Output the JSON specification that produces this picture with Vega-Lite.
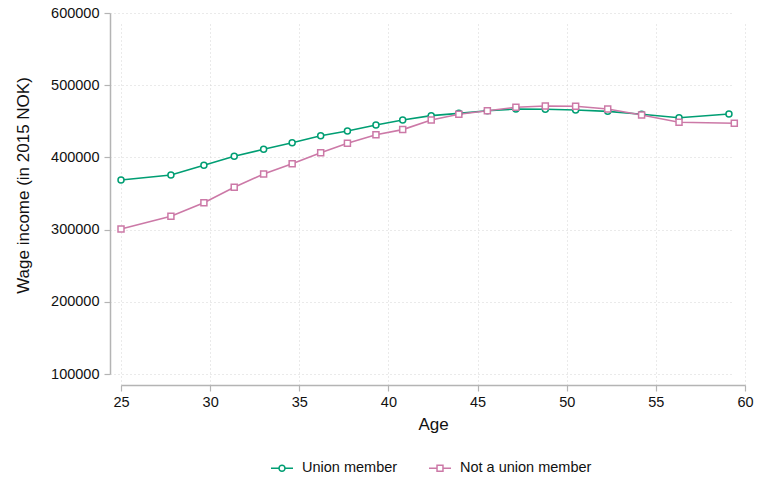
{
  "$schema": "https://vega.github.io/schema/vega-lite/v6.json",
  "width": 624,
  "height": 361,
  "autosize": "none",
  "padding": {"left": 121, "top": 13, "right": 16, "bottom": 108},
  "background": "white",
  "config": {
    "font": "Liberation Sans",
    "view": {"stroke": null},
    "axis": {
      "domainColor": "#b4b4b4",
      "domainWidth": 1.5,
      "tickColor": "#b4b4b4",
      "tickWidth": 1.2,
      "tickSize": 6,
      "labelColor": "#111",
      "titleColor": "#111",
      "labelFontSize": 14.5,
      "titleFontSize": 17,
      "titleFontWeight": "normal",
      "gridColor": "#d4d4d4",
      "gridDash": [1, 3],
      "gridWidth": 1,
      "offset": 11,
      "labelFlush": false
    }
  },
  "data": {
    "values": [
      {"age": 25.0, "wage": 368700, "group": "Union member"},
      {"age": 27.8, "wage": 375600, "group": "Union member"},
      {"age": 29.65, "wage": 389000, "group": "Union member"},
      {"age": 31.35, "wage": 401500, "group": "Union member"},
      {"age": 33.0, "wage": 411200, "group": "Union member"},
      {"age": 34.6, "wage": 420400, "group": "Union member"},
      {"age": 36.2, "wage": 430000, "group": "Union member"},
      {"age": 37.7, "wage": 436600, "group": "Union member"},
      {"age": 39.3, "wage": 444900, "group": "Union member"},
      {"age": 40.8, "wage": 451800, "group": "Union member"},
      {"age": 42.4, "wage": 457800, "group": "Union member"},
      {"age": 43.95, "wage": 461000, "group": "Union member"},
      {"age": 45.55, "wage": 464700, "group": "Union member"},
      {"age": 47.15, "wage": 467000, "group": "Union member"},
      {"age": 48.8, "wage": 466600, "group": "Union member"},
      {"age": 50.5, "wage": 465600, "group": "Union member"},
      {"age": 52.3, "wage": 463800, "group": "Union member"},
      {"age": 54.2, "wage": 459700, "group": "Union member"},
      {"age": 56.3, "wage": 455000, "group": "Union member"},
      {"age": 59.1, "wage": 460100, "group": "Union member"},
      {"age": 25.0, "wage": 300800, "group": "Not a union member"},
      {"age": 27.8, "wage": 318400, "group": "Not a union member"},
      {"age": 29.65, "wage": 337300, "group": "Not a union member"},
      {"age": 31.35, "wage": 358600, "group": "Not a union member"},
      {"age": 33.0, "wage": 377000, "group": "Not a union member"},
      {"age": 34.6, "wage": 391300, "group": "Not a union member"},
      {"age": 36.2, "wage": 406500, "group": "Not a union member"},
      {"age": 37.7, "wage": 419500, "group": "Not a union member"},
      {"age": 39.3, "wage": 431400, "group": "Not a union member"},
      {"age": 40.8, "wage": 438500, "group": "Not a union member"},
      {"age": 42.4, "wage": 451800, "group": "Not a union member"},
      {"age": 43.95, "wage": 459700, "group": "Not a union member"},
      {"age": 45.55, "wage": 464700, "group": "Not a union member"},
      {"age": 47.15, "wage": 469400, "group": "Not a union member"},
      {"age": 48.8, "wage": 471200, "group": "Not a union member"},
      {"age": 50.5, "wage": 470800, "group": "Not a union member"},
      {"age": 52.3, "wage": 467000, "group": "Not a union member"},
      {"age": 54.2, "wage": 458700, "group": "Not a union member"},
      {"age": 56.3, "wage": 448600, "group": "Not a union member"},
      {"age": 59.4, "wage": 447200, "group": "Not a union member"}
    ]
  },
  "encoding": {
    "x": {
      "field": "age", "type": "quantitative",
      "scale": {"domain": [25, 60], "nice": false, "zero": false},
      "axis": {"values": [25, 30, 35, 40, 45, 50, 55, 60], "title": "Age", "grid": true, "labelPadding": 4, "titlePadding": 8}
    },
    "y": {
      "field": "wage", "type": "quantitative",
      "scale": {"domain": [100000, 600000], "nice": false, "zero": false},
      "axis": {"values": [100000, 200000, 300000, 400000, 500000, 600000], "format": "d", "title": "Wage income (in 2015 NOK)", "grid": true, "labelPadding": 5, "titlePadding": 18, "titleY": 172}
    },
    "color": {
      "field": "group", "type": "nominal",
      "scale": {"domain": ["Union member", "Not a union member"], "range": ["#009E73", "#CC79A7"]},
      "legend": {
        "orient": "none",
        "legendX": 149,
        "legendY": 443,
        "direction": "horizontal",
        "title": null,
        "labelFontSize": 14.5,
        "labelColor": "#111",
        "symbolSize": 484,
        "symbolStrokeWidth": 1.5,
        "labelOffset": 8,
        "columnPadding": 28,
        "encode": {
          "symbols": {
            "update": {
              "shape": {"signal": "datum.value === 'Union member' ? 'M-1,0L-0.27,0M0.27,0L1,0M0.27,0A0.27,0.27 0 1 1 -0.27,0A0.27,0.27 0 1 1 0.27,0Z' : 'M-1,0L-0.27,0M0.27,0L1,0M-0.27,-0.27L0.27,-0.27L0.27,0.27L-0.27,0.27Z'"},
              "fill": {"value": "white"},
              "strokeWidth": {"value": 1.5}
            }
          }
        }
      }
    }
  },
  "layer": [
    {
      "mark": {"type": "line", "strokeWidth": 1.6}
    },
    {
      "mark": {"type": "point", "filled": false, "fill": "white", "fillOpacity": 1, "strokeWidth": 1.5, "opacity": 1},
      "encoding": {
        "shape": {
          "condition": {"test": "datum.group === 'Union member'", "value": "circle"},
          "value": "square"
        },
        "size": {"value": 36}
      }
    }
  ]
}
